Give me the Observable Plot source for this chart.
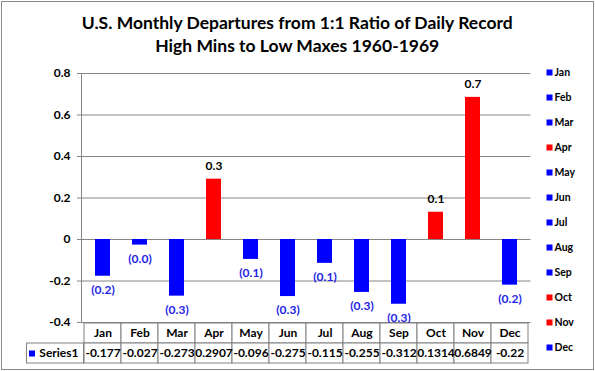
<!DOCTYPE html>
<html>
<head>
<meta charset="utf-8">
<script src="https://cdn.jsdelivr.net/npm/d3@7"></script>
<script src="https://cdn.jsdelivr.net/npm/@observablehq/plot@0.6"></script>
<style>
  html, body { margin: 0; padding: 0; background: #ffffff; }
  #wrap { position: relative; width: 595px; height: 371px; overflow: hidden; background: #fff; font-family: Lato, "Open Sans", sans-serif; }
  #wrap svg { position: absolute; overflow: visible; }
  #border { position: absolute; left: 1px; top: 1px; width: 593px; height: 369px; box-sizing: border-box; border: 1px solid #8c8c8c; pointer-events: none; }
</style>
</head>
<body>
<div id="wrap"><div id="border"></div></div>
<script>
// ---- data ----
const titleLines = ["U.S. Monthly Departures from 1:1 Ratio of Daily Record", "High Mins to Low Maxes 1960-1969"];
const months = ["Jan", "Feb", "Mar", "Apr", "May", "Jun", "Jul", "Aug", "Sep", "Oct", "Nov", "Dec"];
const values = [-0.177, -0.027, -0.273, 0.2907, -0.096, -0.275, -0.115, -0.255, -0.312, 0.1314, 0.6849, -0.22];
const tableLabels = ["-0.177", "-0.027", "-0.273", "0.2907", "-0.096", "-0.275", "-0.115", "-0.255", "-0.312", "0.1314", "0.6849", "-0.22"];
const yTicks = [-0.4, -0.2, 0, 0.2, 0.4, 0.6, 0.8];
const seriesName = "Series1";

// ---- styles ----
const POS = "#ff0000", NEG = "#0000ff", GRID = "#868686", LINE = "#808080";
const FONT = "Lato, 'Open Sans', sans-serif";
const data = months.map((m, i) => ({month: m, value: values[i], label: tableLabels[i]}));
const colorOf = v => v > 0 ? POS : NEG;
const barLabel = v => v >= 0 ? d3.format(".1f")(v) : "(" + d3.format(".1f")(Math.abs(v)) + ")";
const tickFmt = d => String(+d.toFixed(1));

const wrap = document.getElementById("wrap");
const place = (el, left, top) => { el.style.left = left + "px"; el.style.top = top + "px"; wrap.insertBefore(el, document.getElementById("border")); };

const mL = 81, mR = 64.5;

// ---- main chart ----
const chart = Plot.plot({
  width: 595, height: 371,
  marginTop: 73, marginBottom: 49, marginLeft: mL, marginRight: mR,
  style: {fontFamily: FONT, background: "transparent", color: "#000"},
  x: {domain: months, paddingInner: 0.6, paddingOuter: 0.3, axis: null},
  y: {domain: [-0.4, 0.8], axis: null},
  marks: [
    Plot.gridY(yTicks, {stroke: GRID, strokeOpacity: 1}),
    Plot.frame({anchor: "left", stroke: GRID}),
    Plot.axisY(yTicks, {label: null, tickSize: 4, tickPadding: 7, tickFormat: tickFmt, stroke: GRID, fill: "#000", fontSize: 12, fontWeight: "bold"}),
    Plot.barY(data, {x: "month", y: "value", fill: d => colorOf(d.value)}),
    Plot.text(data.filter(d => d.value > 0), {x: "month", y: "value", text: d => barLabel(d.value), dy: -13, fill: "#000", fontSize: 12, fontWeight: "bold"}),
    Plot.text(data.filter(d => d.value <= 0), {x: "month", y: "value", text: d => barLabel(d.value), dy: 14, fill: "#2424e8", fontSize: 12, fontWeight: "bold"}),
    Plot.text([titleLines[0]], {frameAnchor: "top", dx: -9, dy: -45, lineAnchor: "bottom", fontSize: 17.5, fontWeight: "bold", fill: "#000"}),
    Plot.text([titleLines[1]], {frameAnchor: "top", dx: -9, dy: -21.3, lineAnchor: "bottom", fontSize: 17.5, fontWeight: "bold", fill: "#000"})
  ]
});
place(chart, 0, 0);

// ---- data table ----
const rows = ["cat", "val"];
const cells = months.flatMap(m => rows.map(r => ({month: m, row: r})));
const table = Plot.plot({
  width: 595, height: 43,
  marginTop: 1, marginBottom: 1, marginLeft: mL, marginRight: mR,
  style: {fontFamily: FONT, background: "transparent", color: "#000"},
  x: {domain: months, padding: 0, axis: null},
  y: {domain: rows, padding: 0, axis: null},
  marks: [
    Plot.cell(cells, {x: "month", y: "row", fill: "white", stroke: LINE}),
    Plot.cell([{month: months[0], row: "val"}], {x: "month", y: "row", fill: "white", stroke: LINE, insetLeft: -57.5, insetRight: 449.5 / 12}),
    Plot.text(months, {x: d => d, y: () => "cat", text: d => d, fontSize: 12, fontWeight: "bold", fill: "#000"}),
    Plot.text(data, {x: "month", y: () => "val", text: "label", fontSize: 12, fontWeight: "bold", fill: "#000"}),
    Plot.dot([seriesName], {y: () => "val", frameAnchor: "left", dx: -49.5, symbol: "square", r: 3.4, fill: NEG, stroke: null}),
    Plot.text([seriesName], {y: () => "val", frameAnchor: "left", textAnchor: "end", dx: -3, text: d => d, fontSize: 12, fontWeight: "bold", fill: "#000"})
  ]
});
place(table, 0, 321);

// ---- legend ----
const legend = Plot.plot({
  width: 55, height: 279.6,
  margin: 0,
  style: {fontFamily: FONT, background: "transparent", color: "#000"},
  y: {domain: months, padding: 0, axis: null},
  marks: [
    Plot.dot(data, {y: "month", frameAnchor: "left", dx: 9, symbol: "square", r: 3.4, fill: d => colorOf(d.value), stroke: null}),
    Plot.text(data, {y: "month", frameAnchor: "left", dx: 14, textAnchor: "start", text: "month", fontSize: 10.5, fontWeight: "bold", fill: "#000"})
  ]
});
place(legend, 540, 70);
</script>
</body>
</html>
